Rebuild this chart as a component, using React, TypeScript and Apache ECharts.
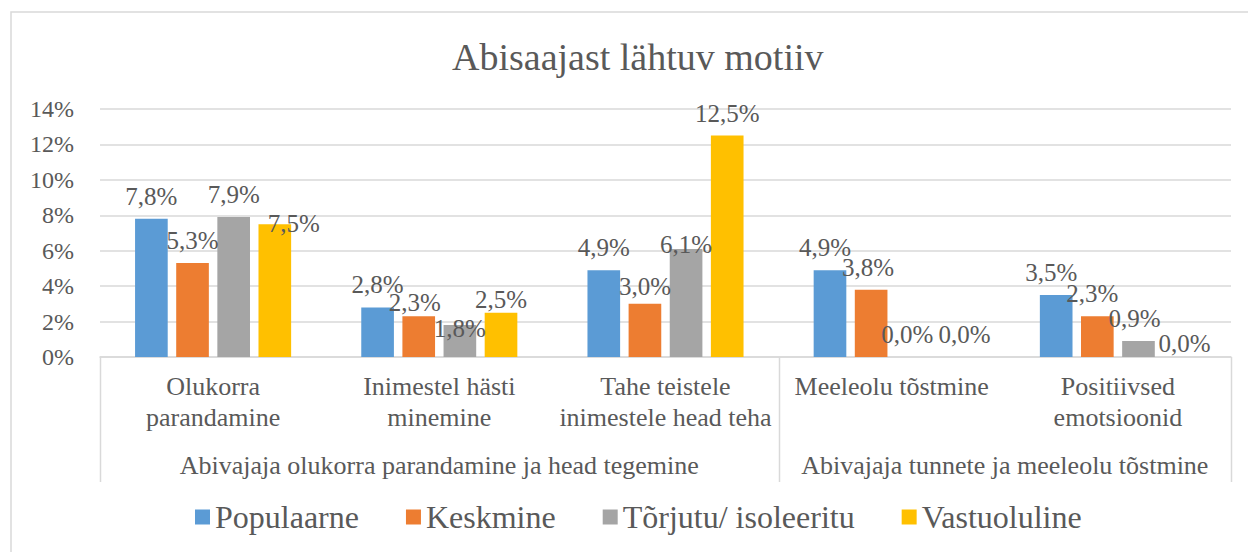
import React, { useEffect, useRef } from "react";
import * as echarts from "echarts";

const categories = [
  "Olukorra\nparandamine",
  "Inimestel hästi\nminemine",
  "Tahe teistele\ninimestele head teha",
  "Meeleolu tõstmine",
  "Positiivsed\nemotsioonid",
];
const groups = [
  { label: "Abivajaja olukorra parandamine ja head tegemine", from: 0, to: 2 },
  { label: "Abivajaja tunnete ja meeleolu tõstmine", from: 3, to: 4 },
];
const seriesNames = ["Populaarne", "Keskmine", "Tõrjutu/ isoleeritu", "Vastuoluline"];
const populaarne = [7.8, 2.8, 4.9, 4.9, 3.5];
const keskmine = [5.3, 2.3, 3.0, 3.8, 2.3];
const torjutu = [7.9, 1.8, 6.1, 0.0, 0.9];
const vastuoluline = [7.5, 2.5, 12.5, 0.0, 0.0];
const seriesValues = [populaarne, keskmine, torjutu, vastuoluline];
const colors = ["#5B9BD5", "#ED7D31", "#A5A5A5", "#FFC000"];

// label nudges (layout only): "series-category" -> [dx, dy]
const labelNudges: Record<string, [number, number]> = {
  "3-0": [19, 22],
  "1-1": [-4, 9],
  "2-1": [0, 26],
  "3-1": [0, 9],
  "1-2": [0, 5],
  "2-2": [0, 18],
  "0-3": [-5, 0],
  "1-3": [-3, 0],
  "2-3": [-5, 0],
  "3-3": [11, 0],
  "0-4": [-5, 0],
  "1-4": [-5, 0],
  "2-4": [-4, 0],
  "3-4": [5, 9],
};

const FONT = "Liberation Serif";
const TEXT = "#595959";
const LINE = "#d9d9d9";

export default function App() {
  const ref = useRef<HTMLDivElement>(null);
  useEffect(() => {
    if (!ref.current) return;
    const chart = echarts.init(ref.current, null, { renderer: "svg" });
    chart.setOption({
      animation: false,
      textStyle: { fontFamily: FONT, fontWeight: "normal" },
      title: {
        text: "Abisaajast lähtuv motiiv",
        left: 447,
        top: 33,
        textStyle: { fontFamily: FONT, fontSize: 38, fontWeight: "normal", color: TEXT },
      },
      grid: { left: 100, right: 17, top: 109, bottom: 195 },
      legend: {
        bottom: 14,
        left: 190,
        icon: "rect",
        itemWidth: 15,
        itemHeight: 15,
        itemGap: 47,
        textStyle: { fontFamily: FONT, fontSize: 32, fontWeight: "normal", color: TEXT },
        data: seriesNames,
      },
      xAxis: {
        type: "category",
        data: categories,
        axisLine: { lineStyle: { color: LINE, width: 1.5 } },
        axisTick: { show: false },
        axisLabel: {
          interval: 0,
          fontFamily: FONT,
          fontWeight: "normal",
          fontSize: 26,
          lineHeight: 31,
          color: TEXT,
          margin: 14,
          verticalAlign: "top",
        },
      },
      yAxis: {
        type: "value",
        min: 0,
        max: 14,
        interval: 2,
        axisLine: { show: false },
        axisTick: { show: false },
        splitLine: { lineStyle: { color: LINE, width: 1.5 } },
        axisLabel: {
          formatter: "{value}%",
          fontFamily: FONT,
          fontWeight: "normal",
          fontSize: 24,
          color: TEXT,
          margin: 26,
        },
      },
      series: seriesNames.map((name, i) => ({
        name,
        type: "bar",
        data: seriesValues[i].map((v, j) => {
          const n = labelNudges[i + "-" + j];
          return n ? { value: v, label: { offset: n } } : v;
        }),
        barGap: "26%",
        barCategoryGap: "31%",
        itemStyle: { color: colors[i] },
        label: {
          show: true,
          position: "top",
          distance: 10,
          fontFamily: FONT,
          fontWeight: "normal",
          fontSize: 25,
          color: TEXT,
          formatter: (p: any) => Number(p.value).toFixed(1).replace(".", ",") + "%",
        },
      })),
    });

    const c0 = chart.convertToPixel({ xAxisIndex: 0 }, 0) as number;
    const c1 = chart.convertToPixel({ xAxisIndex: 0 }, 1) as number;
    const band = c1 - c0;
    const base = chart.convertToPixel({ yAxisIndex: 0 }, 0) as number;
    const edge = (i: number) => c0 + band * i - band / 2;
    const graphics: any[] = [
      {
        type: "rect",
        shape: { x: 11, y: 12, width: 1250, height: 560 },
        style: { fill: "none", stroke: LINE, lineWidth: 1.5 },
        silent: true,
      },
    ];
    [0, 3, 5].forEach((b) => {
      const x = Math.round(edge(b)) + 0.5;
      graphics.push({
        type: "line",
        shape: { x1: x, y1: base, x2: x, y2: base + 125 },
        style: { stroke: LINE, lineWidth: 1.5 },
        silent: true,
      });
    });
    groups.forEach((g) => {
      const cx = (edge(g.from) + edge(g.to + 1)) / 2;
      graphics.push({
        type: "text",
        x: cx,
        y: base + 108,
        style: {
          text: g.label,
          fontFamily: FONT,
          fontSize: 26,
          fill: TEXT,
          align: "center",
          verticalAlign: "middle",
        },
        silent: true,
      });
    });
    chart.setOption({ graphic: graphics });

    return () => chart.dispose();
  }, []);
  return (
    <div
      ref={ref}
      style={{ position: "fixed", left: 0, top: 0, width: 1248, height: 552, background: "#fff" }}
    />
  );
}
